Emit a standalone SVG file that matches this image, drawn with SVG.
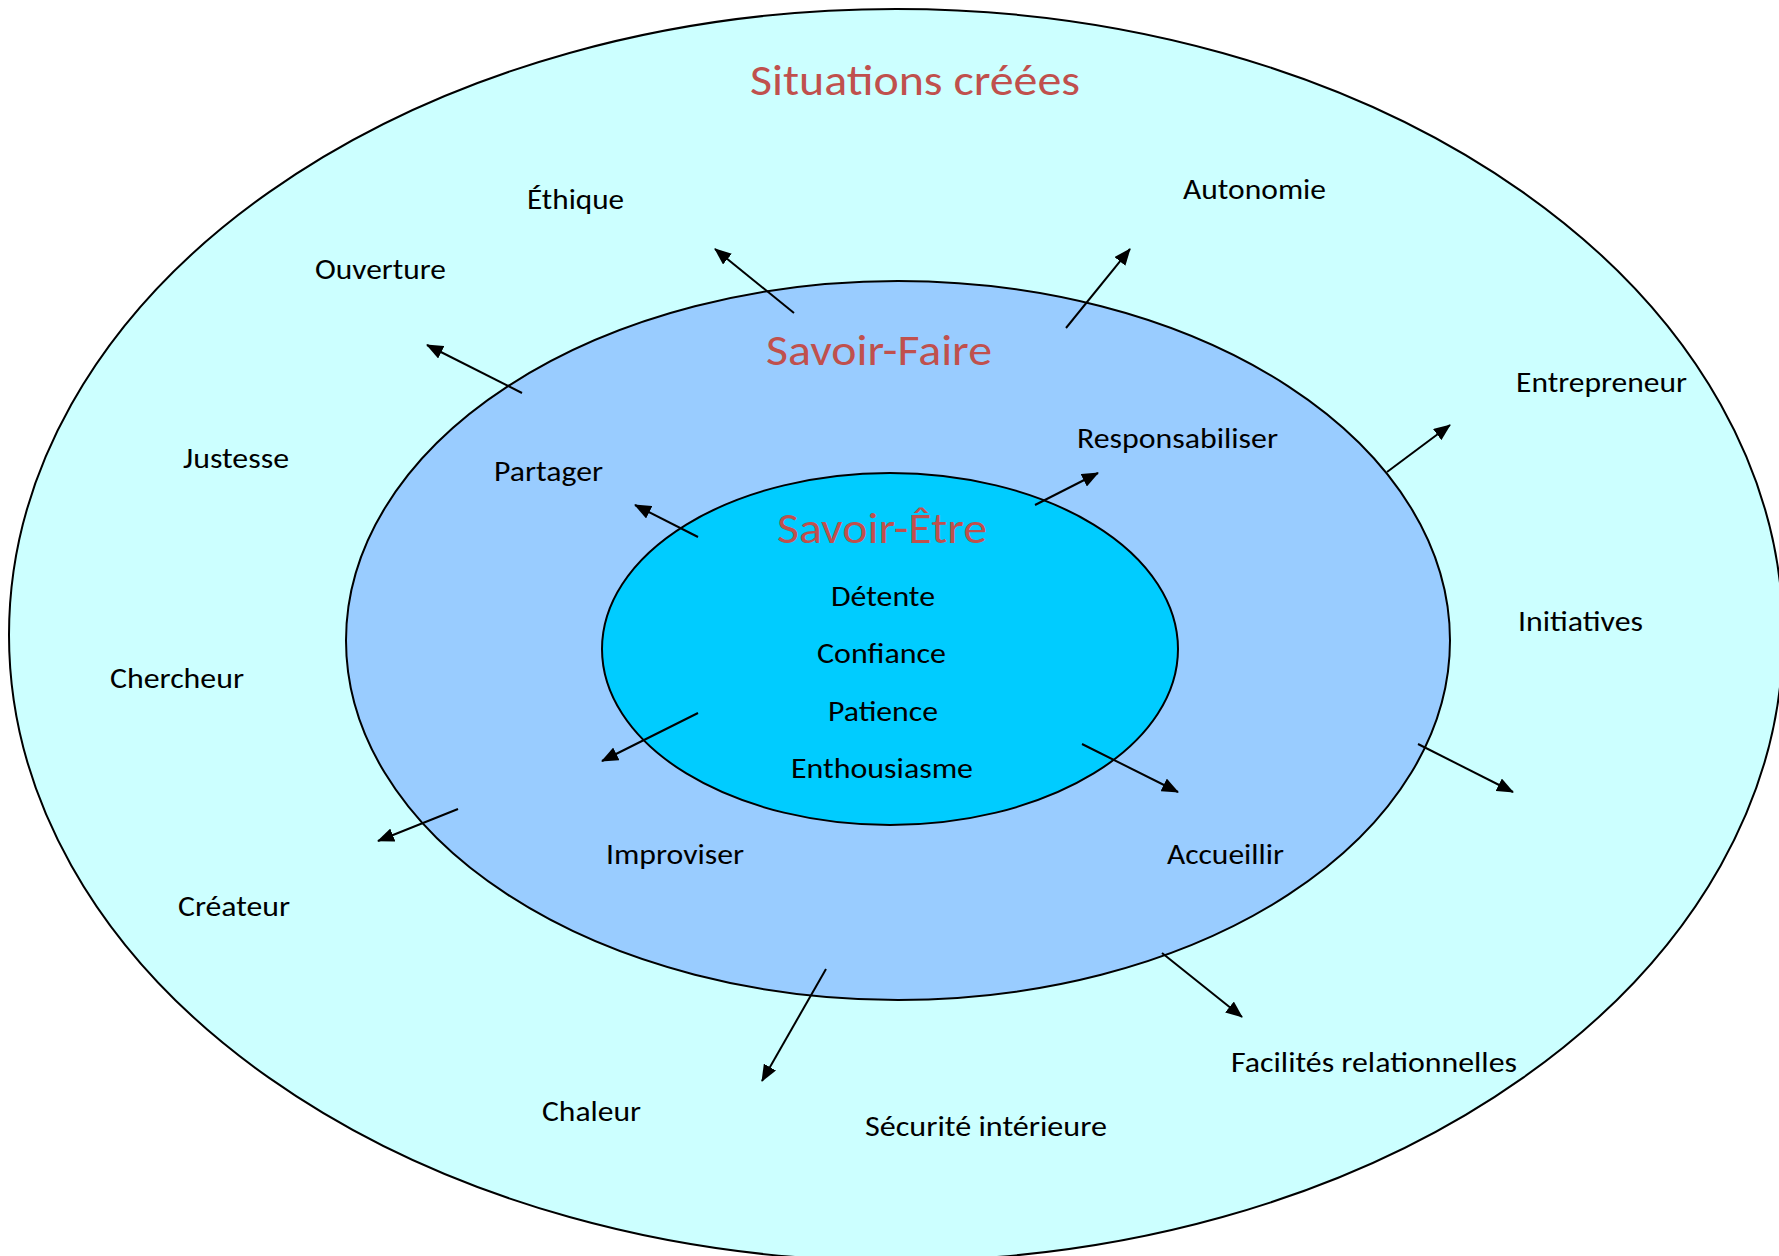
<svg xmlns="http://www.w3.org/2000/svg" width="1779" height="1256" viewBox="0 0 1779 1256">
  <style>
    .ring { stroke: #000; stroke-width: 2; }
    .title { font-family: Calibri, Carlito, Lato, "Noto Sans", sans-serif; font-size: 43px; fill: #C0504D; }
    .lbl { font-family: Calibri, Carlito, Lato, "Noto Sans", sans-serif; font-size: 29px; fill: #000; }
    .arrow { stroke: #000; stroke-width: 2; fill: none; marker-end: url(#head); }
  </style>
  <defs>
    <marker id="head" viewBox="0 0 17 14" refX="16" refY="7" markerWidth="17" markerHeight="14" markerUnits="userSpaceOnUse" orient="auto">
      <path d="M0,0 L17,7 L0,14 z" fill="#000"/>
    </marker>
  </defs>

  <rect width="1779" height="1256" fill="#fff"/>

  <!-- outer ring: situations -->
  <g id="situations">
    <ellipse class="ring" cx="896" cy="635" rx="887" ry="626" fill="#CCFFFF"/>
    <text class="title" x="750" y="95" textLength="330" lengthAdjust="spacingAndGlyphs">Situations créées</text>
  </g>

  <!-- middle ring: savoir-faire -->
  <g id="savoir-faire">
    <ellipse class="ring" cx="898" cy="640.5" rx="552" ry="359.5" fill="#99CCFF"/>
    <text class="title" x="766" y="365" textLength="226" lengthAdjust="spacingAndGlyphs">Savoir-Faire</text>
  </g>

  <!-- inner ring: savoir-être -->
  <g id="savoir-etre">
    <ellipse class="ring" cx="890" cy="649" rx="288" ry="176" fill="#00CCFF"/>
    <text class="title" x="777" y="543" textLength="210" lengthAdjust="spacingAndGlyphs">Savoir-Être</text>
  </g>

  <!-- qualities inside savoir-être -->
  <g id="detente"><text class="lbl" x="831" y="606" textLength="104" lengthAdjust="spacingAndGlyphs">Détente</text></g>
  <g id="confiance"><text class="lbl" x="817" y="663" textLength="129" lengthAdjust="spacingAndGlyphs">Confiance</text></g>
  <g id="patience"><text class="lbl" x="828" y="721" textLength="110" lengthAdjust="spacingAndGlyphs">Patience</text></g>
  <g id="enthousiasme"><text class="lbl" x="791" y="778" textLength="182" lengthAdjust="spacingAndGlyphs">Enthousiasme</text></g>

  <!-- savoir-faire actions -->
  <g id="partager"><text class="lbl" x="494" y="481" textLength="109" lengthAdjust="spacingAndGlyphs">Partager</text></g>
  <g id="responsabiliser"><text class="lbl" x="1077" y="448" textLength="201" lengthAdjust="spacingAndGlyphs">Responsabiliser</text></g>
  <g id="improviser"><text class="lbl" x="606" y="864" textLength="138" lengthAdjust="spacingAndGlyphs">Improviser</text></g>
  <g id="accueillir"><text class="lbl" x="1167" y="864" textLength="117" lengthAdjust="spacingAndGlyphs">Accueillir</text></g>

  <!-- outcomes in the outer ring -->
  <g id="ethique"><text class="lbl" x="527" y="209" textLength="97" lengthAdjust="spacingAndGlyphs">Éthique</text></g>
  <g id="ouverture"><text class="lbl" x="315" y="279" textLength="131" lengthAdjust="spacingAndGlyphs">Ouverture</text></g>
  <g id="autonomie"><text class="lbl" x="1183" y="199" textLength="143" lengthAdjust="spacingAndGlyphs">Autonomie</text></g>
  <g id="entrepreneur"><text class="lbl" x="1516" y="392" textLength="171" lengthAdjust="spacingAndGlyphs">Entrepreneur</text></g>
  <g id="justesse"><text class="lbl" x="183" y="468" textLength="106" lengthAdjust="spacingAndGlyphs">Justesse</text></g>
  <g id="initiatives"><text class="lbl" x="1518" y="631" textLength="125" lengthAdjust="spacingAndGlyphs">Initiatives</text></g>
  <g id="chercheur"><text class="lbl" x="110" y="688" textLength="134" lengthAdjust="spacingAndGlyphs">Chercheur</text></g>
  <g id="createur"><text class="lbl" x="178" y="916" textLength="112" lengthAdjust="spacingAndGlyphs">Créateur</text></g>
  <g id="chaleur"><text class="lbl" x="542" y="1121" textLength="99" lengthAdjust="spacingAndGlyphs">Chaleur</text></g>
  <g id="securite"><text class="lbl" x="865" y="1136" textLength="242" lengthAdjust="spacingAndGlyphs">Sécurité intérieure</text></g>
  <g id="facilites"><text class="lbl" x="1231" y="1072" textLength="286" lengthAdjust="spacingAndGlyphs">Facilités relationnelles</text></g>

  <!-- connectors -->
  <g id="connectors">
    <line class="arrow" x1="794" y1="313" x2="715" y2="249"/>
    <line class="arrow" x1="522" y1="393" x2="427" y2="345"/>
    <line class="arrow" x1="1066" y1="328" x2="1130" y2="249"/>
    <line class="arrow" x1="1387" y1="472" x2="1450" y2="425"/>
    <line class="arrow" x1="1035" y1="505" x2="1098" y2="473"/>
    <line class="arrow" x1="698" y1="537" x2="635" y2="505"/>
    <line class="arrow" x1="698" y1="713" x2="602" y2="761"/>
    <line class="arrow" x1="1082" y1="744" x2="1178" y2="792"/>
    <line class="arrow" x1="1418" y1="744" x2="1513" y2="792"/>
    <line class="arrow" x1="458" y1="809" x2="378" y2="841"/>
    <line class="arrow" x1="826" y1="969" x2="762" y2="1081"/>
    <line class="arrow" x1="1162" y1="953" x2="1242" y2="1017"/>
  </g>
</svg>
